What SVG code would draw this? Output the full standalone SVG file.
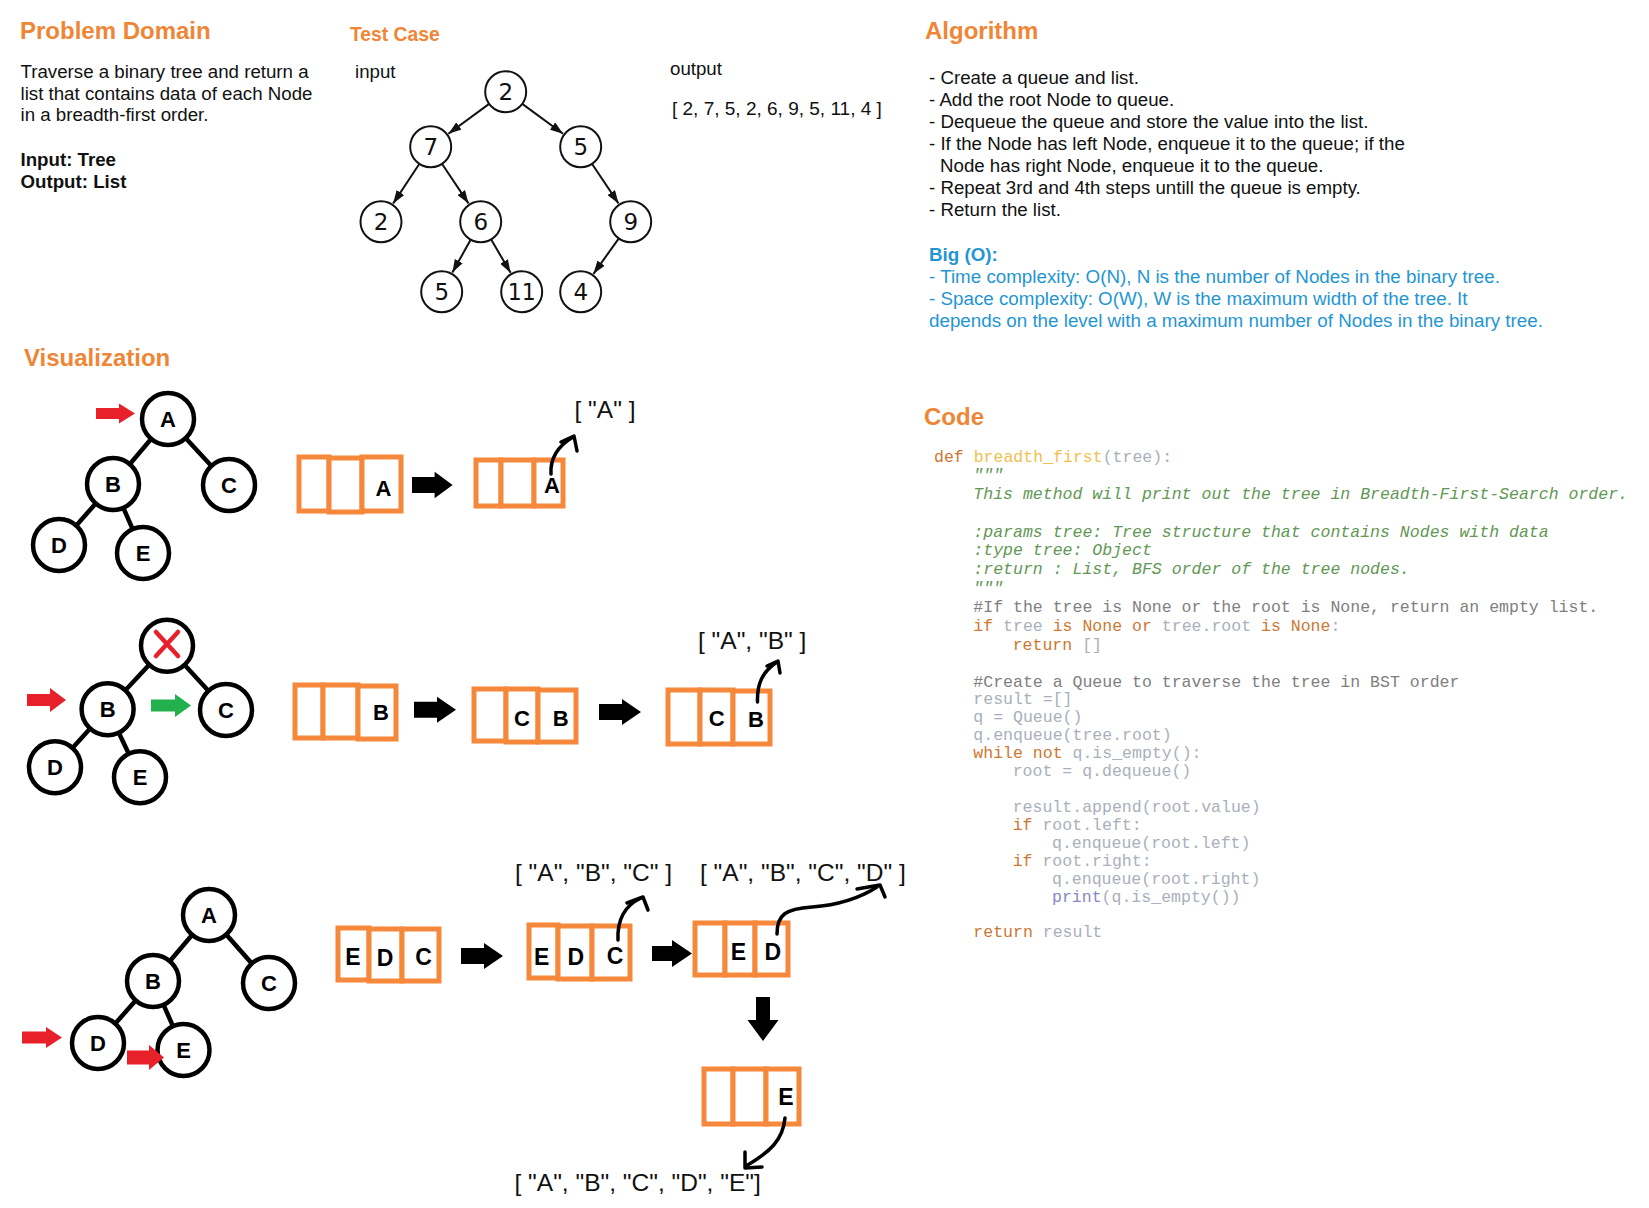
<svg xmlns="http://www.w3.org/2000/svg" width="1649" height="1208" viewBox="0 0 1649 1208">
<style>
  .h { font-family: "Liberation Sans", Arial, sans-serif; font-weight: bold; font-size: 24px; fill: #ef8636; }
  .t { font-family: "Liberation Sans", Arial, sans-serif; font-size: 18.7px; fill: #111; }
  .tb { font-family: "Liberation Sans", Arial, sans-serif; font-size: 18.7px; font-weight: bold; fill: #111; }
  .blue { font-family: "Liberation Sans", Arial, sans-serif; font-size: 18.8px; fill: #1f96d3; }
  .num { font-family: "DejaVu Sans", sans-serif; font-size: 23px; fill: #111; text-anchor: middle; }
  .tc { fill: #fff; stroke: #111; stroke-width: 2; }
  .te { stroke: #111; stroke-width: 2; fill: none; marker-end: url(#ah); }
  .vc { fill: #fff; stroke: #000; stroke-width: 4.5; }
  .vl { stroke: #000; stroke-width: 4.5; fill: none; }
  .vt { font-family: "Liberation Sans", Arial, sans-serif; font-weight: bold; font-size: 22px; fill: #000; text-anchor: middle; }
  .vt3 { font-size: 23px; }
  .cell { fill: #fff; stroke: #f5883a; stroke-width: 5; }
  .q { font-family: "Liberation Sans", Arial, sans-serif; font-size: 24.5px; fill: #111; }
  .curve { stroke: #000; stroke-width: 3.5; fill: none; stroke-linecap: round; stroke-linejoin: round; }
  .red { fill: #e8202a; }
  .green { fill: #22b14c; }
  .blk { fill: #000; }
  .code { font-family: "Liberation Mono", "Courier New", monospace; font-size: 16.55px; fill: #a9b0bb; }
  .kw { fill: #cc7832; }
  .fn { fill: #f0c050; }
  .cm { fill: #808080; }
  .doc { fill: #629755; font-style: italic; }
  .bi { fill: #8888c6; }
</style>
<defs>
  <marker id="ah" viewBox="0 0 13 9" markerWidth="13" markerHeight="9" refX="13" refY="4.5" orient="auto" markerUnits="userSpaceOnUse">
    <path d="M0,0 L13,4.5 L0,9 Z" fill="#111"/>
  </marker>
</defs>
<rect width="1649" height="1208" fill="#fff"/>

<!-- Problem Domain -->
<g id="problem-domain">
  <text class="h" x="20" y="39">Problem Domain</text>
  <text class="t" x="20.5" y="78.3">Traverse a binary tree and return a</text>
  <text class="t" x="20.5" y="99.5">list that contains data of each Node</text>
  <text class="t" x="20.5" y="120.7">in a breadth-first order.</text>
  <text class="tb" x="20.5" y="166">Input: Tree</text>
  <text class="tb" x="20.5" y="187.7">Output: List</text>
</g>

<!-- Test case -->
<g id="test-case">
  <text class="h" x="350" y="40.7" style="font-size:19.3px">Test Case</text>
  <text class="t" x="355" y="78">input</text>
  <text class="t" x="670" y="75">output</text>
  <text class="t" x="672" y="115" style="font-size:19px">[ 2, 7, 5, 2, 6, 9, 5, 11, 4 ]</text>
</g>

<g id="test-tree-edges">
  <line class="te" x1="488.8" y1="104.1" x2="448.4" y2="133.7"/>
  <line class="te" x1="522.6" y1="104.1" x2="563.0" y2="133.7"/>
  <line class="te" x1="419.1" y1="164.2" x2="393.2" y2="203.4"/>
  <line class="te" x1="442.3" y1="164.2" x2="468.5" y2="203.4"/>
  <line class="te" x1="592.3" y1="164.2" x2="618.5" y2="203.4"/>
  <line class="te" x1="470.5" y1="240.0" x2="452.4" y2="272.5"/>
  <line class="te" x1="491.3" y1="239.8" x2="510.6" y2="272.7"/>
  <line class="te" x1="618.5" y1="238.8" x2="593.5" y2="273.8"/>
</g>
<g id="tn-root"><circle class="tc" cx="505.7" cy="91.7" r="20.5"/><text class="num" x="505.7" y="100">2</text></g>
<g id="tn-7"><circle class="tc" cx="430.7" cy="146.7" r="20.5"/><text class="num" x="430.7" y="155">7</text></g>
<g id="tn-5"><circle class="tc" cx="580.7" cy="146.7" r="20.5"/><text class="num" x="580.7" y="155">5</text></g>
<g id="tn-2b"><circle class="tc" cx="381" cy="221.7" r="20.5"/><text class="num" x="381" y="230">2</text></g>
<g id="tn-6"><circle class="tc" cx="480.7" cy="221.7" r="20.5"/><text class="num" x="480.7" y="230">6</text></g>
<g id="tn-9"><circle class="tc" cx="630.7" cy="221.7" r="20.5"/><text class="num" x="630.7" y="230">9</text></g>
<g id="tn-5b"><circle class="tc" cx="441.7" cy="291.7" r="20.5"/><text class="num" x="441.7" y="300">5</text></g>
<g id="tn-11"><circle class="tc" cx="521.7" cy="291.7" r="20.5"/><text class="num" x="521.7" y="300" textLength="28" lengthAdjust="spacingAndGlyphs">11</text></g>
<g id="tn-4"><circle class="tc" cx="580.7" cy="291.7" r="20.5"/><text class="num" x="580.7" y="300">4</text></g>

<!-- Algorithm -->
<g id="algorithm">
  <text class="h" x="925" y="39.3">Algorithm</text>
  <text class="t" x="929" y="83.5">- Create a queue and list.</text>
  <text class="t" x="929" y="105.5">- Add the root Node to queue.</text>
  <text class="t" x="929" y="127.7">- Dequeue the queue and store the value into the list.</text>
  <text class="t" x="929" y="150">- If the Node has left Node, enqueue it to the queue; if the</text>
  <text class="t" x="940" y="172">Node has right Node, enqueue it to the queue.</text>
  <text class="t" x="929" y="194">- Repeat 3rd and 4th steps untill the queue is empty.</text>
  <text class="t" x="929" y="216">- Return the list.</text>
  <text class="blue" x="929" y="260.5" style="font-weight:bold">Big (O):</text>
  <text class="blue" x="929" y="282.5">- Time complexity: O(N), N is the number of Nodes in the binary tree.</text>
  <text class="blue" x="929" y="304.5">- Space complexity: O(W), W is the maximum width of the tree. It</text>
  <text class="blue" x="929" y="326.5">depends on the level with a maximum number of Nodes in the binary tree.</text>
</g>

<!-- Code -->
<g id="code">
  <text class="h" x="924" y="425">Code</text>
  <g class="code" xml:space="preserve">
    <text x="934" y="462"><tspan class="kw">def</tspan> <tspan class="fn">breadth_first</tspan>(tree):</text>
    <text x="973.3" y="480" class="doc">"""</text>
    <text x="973.3" y="498.5" class="doc">This method will print out the tree in Breadth-First-Search order.</text>
    <text x="973.3" y="536.5" class="doc">:params tree: Tree structure that contains Nodes with data</text>
    <text x="973.3" y="555.3" class="doc">:type tree: Object</text>
    <text x="973.3" y="574" class="doc">:return : List, BFS order of the tree nodes.</text>
    <text x="973.3" y="592.5" class="doc">"""</text>
    <text x="973.3" y="612" class="cm">#If the tree is None or the root is None, return an empty list.</text>
    <text x="973.3" y="630.5"><tspan class="kw">if</tspan> tree <tspan class="kw">is None or</tspan> tree.root <tspan class="kw">is None</tspan>:</text>
    <text x="1012.7" y="649.5"><tspan class="kw">return</tspan> []</text>
    <text x="973.3" y="686.5" class="cm">#Create a Queue to traverse the tree in BST order</text>
    <text x="973.3" y="704">result =[]</text>
    <text x="973.3" y="722">q = Queue()</text>
    <text x="973.3" y="740">q.enqueue(tree.root)</text>
    <text x="973.3" y="758"><tspan class="kw">while not</tspan> q.is_empty():</text>
    <text x="1012.7" y="776">root = q.dequeue()</text>
    <text x="1012.7" y="812">result.append(root.value)</text>
    <text x="1012.7" y="830"><tspan class="kw">if</tspan> root.left:</text>
    <text x="1052" y="848">q.enqueue(root.left)</text>
    <text x="1012.7" y="866"><tspan class="kw">if</tspan> root.right:</text>
    <text x="1052" y="884">q.enqueue(root.right)</text>
    <text x="1052" y="902"><tspan class="bi">print</tspan>(q.is_empty())</text>
    <text x="973.3" y="937"><tspan class="kw">return</tspan> result</text>
  </g>
</g>

<!-- Visualization -->
<text class="h" x="24" y="366">Visualization</text>

<g id="connectors">
  <!-- row 1 tree -->
  <line class="vl" x1="168" y1="419" x2="113" y2="484"/>
  <line class="vl" x1="168" y1="419" x2="229" y2="485"/>
  <line class="vl" x1="113" y1="484" x2="59" y2="545"/>
  <line class="vl" x1="113" y1="484" x2="143" y2="553"/>
  <!-- row 2 tree -->
  <line class="vl" x1="167" y1="645.7" x2="107.6" y2="709.3"/>
  <line class="vl" x1="167" y1="645.7" x2="226" y2="710"/>
  <line class="vl" x1="107.6" y1="709.3" x2="55" y2="767.3"/>
  <line class="vl" x1="107.6" y1="709.3" x2="140" y2="777.3"/>
  <!-- row 3 tree -->
  <line class="vl" x1="209" y1="915" x2="153" y2="981"/>
  <line class="vl" x1="209" y1="915" x2="269" y2="983"/>
  <line class="vl" x1="153" y1="981" x2="98" y2="1043"/>
  <line class="vl" x1="153" y1="981" x2="183.5" y2="1050"/>
  <!-- block arrows -->
  <path class="red" d="M96,408 H119 V403.5 L135,413.5 L119,423.5 V419 H96 Z"/>
  <path class="blk" d="M412,477 H434.6 V471.7 L452.6,485 L434.6,498.3 V493 H412 Z"/>
  <path class="red" d="M27,694 H50 V688 L66,700 L50,712 V706 H27 Z"/>
  <path class="green" d="M151,699.5 H175 V694 L191,705.5 L175,717 V711.5 H151 Z"/>
  <path class="blk" d="M414,701.7 H437 V696.7 L456,709.7 L437,722.7 V717.7 H414 Z"/>
  <path class="blk" d="M599,704 H622 V699 L641,712 L622,725 V720 H599 Z"/>
  <path class="red" d="M22,1031.5 H46 V1027 L62,1037.5 L46,1048 V1043.5 H22 Z"/>
  <path class="blk" d="M461,948 H484 V943 L503,956 L484,969 V964 H461 Z"/>
  <path class="blk" d="M652,946 H672 V940 L692,953.5 L672,967 V961 H652 Z"/>
  <path class="blk" d="M756,997 V1020 H747.5 L763,1041 L778.5,1020 H770 V997 Z"/>
</g>

<!-- row 1 tree nodes -->
<g id="r1-A"><circle class="vc" cx="168" cy="419" r="26"/><text class="vt" x="168" y="427">A</text></g>
<g id="r1-B"><circle class="vc" cx="113" cy="484" r="26"/><text class="vt" x="113" y="492">B</text></g>
<g id="r1-C"><circle class="vc" cx="229" cy="485" r="26"/><text class="vt" x="229" y="493">C</text></g>
<g id="r1-D"><circle class="vc" cx="59" cy="545" r="26"/><text class="vt" x="59" y="553">D</text></g>
<g id="r1-E"><circle class="vc" cx="143" cy="553" r="26"/><text class="vt" x="143" y="561">E</text></g>

<!-- row 2 tree nodes -->
<g id="r2-A"><circle class="vc" cx="167" cy="645.7" r="26"/>
  <path d="M156,632 L178,656 M178,632 L156,656" stroke="#e8202a" stroke-width="4.5" stroke-linecap="round"/></g>
<g id="r2-B"><circle class="vc" cx="107.6" cy="709.3" r="26"/><text class="vt" x="107.6" y="717.3">B</text></g>
<g id="r2-C"><circle class="vc" cx="226" cy="710" r="26"/><text class="vt" x="226" y="718">C</text></g>
<g id="r2-D"><circle class="vc" cx="55" cy="767.3" r="26"/><text class="vt" x="55" y="775.3">D</text></g>
<g id="r2-E"><circle class="vc" cx="140" cy="777.3" r="26"/><text class="vt" x="140" y="785.3">E</text></g>

<!-- row 3 tree nodes -->
<g id="r3-A"><circle class="vc" cx="209" cy="915" r="26"/><text class="vt" x="209" y="923">A</text></g>
<g id="r3-B"><circle class="vc" cx="153" cy="981" r="26"/><text class="vt" x="153" y="989">B</text></g>
<g id="r3-C"><circle class="vc" cx="269" cy="983" r="26"/><text class="vt" x="269" y="991">C</text></g>
<g id="r3-D"><circle class="vc" cx="98" cy="1043" r="26"/><text class="vt" x="98" y="1051">D</text></g>
<g id="r3-E"><circle class="vc" cx="183.5" cy="1050" r="26"/><text class="vt" x="183.5" y="1058">E</text></g>
<path class="red" d="M127,1050.5 H149 V1045 L164,1057.5 L149,1070 V1064.5 H127 Z"/>

<!-- queues row 1 -->
<g id="q1a">
  <rect class="cell" x="299" y="457" width="30" height="54"/>
  <rect class="cell" x="329" y="458" width="33" height="54"/>
  <rect class="cell" x="362" y="457" width="39" height="54"/>
  <text class="vt" x="383.5" y="496">A</text>
</g>
<g id="q1b">
  <rect class="cell" x="476" y="460" width="25" height="46"/>
  <rect class="cell" x="501" y="460" width="33" height="46"/>
  <rect class="cell" x="534" y="460" width="29" height="46"/>
  <text class="vt" x="552" y="493">A</text>
</g>
<g id="l1"><text class="q" x="574.5" y="417.5">[ "A" ]</text></g>

<!-- queues row 2 -->
<g id="q2a">
  <rect class="cell" x="295" y="685" width="28" height="53"/>
  <rect class="cell" x="323" y="685" width="35" height="53"/>
  <rect class="cell" x="358" y="686" width="38" height="53"/>
  <text class="vt" x="381" y="720">B</text>
</g>
<g id="q2b">
  <rect class="cell" x="474" y="689" width="32" height="52"/>
  <rect class="cell" x="506" y="689" width="32" height="53"/>
  <rect class="cell" x="538" y="690" width="38" height="52"/>
  <text class="vt" x="522" y="726">C</text>
  <text class="vt" x="560.6" y="726">B</text>
</g>
<g id="q2c">
  <rect class="cell" x="668" y="690" width="32" height="54"/>
  <rect class="cell" x="700" y="690" width="33" height="54"/>
  <rect class="cell" x="733" y="691" width="37" height="53"/>
  <text class="vt" x="716.6" y="726">C</text>
  <text class="vt" x="756" y="727">B</text>
</g>
<g id="l2"><text class="q" x="698" y="649">[ "A", "B" ]</text></g>

<!-- queues row 3 -->
<g id="q3a">
  <rect class="cell" x="338" y="928" width="31" height="52"/>
  <rect class="cell" x="369" y="929" width="33" height="52"/>
  <rect class="cell" x="402" y="929" width="37" height="52"/>
  <text class="vt vt3" x="353" y="965">E</text>
  <text class="vt vt3" x="385" y="966">D</text>
  <text class="vt vt3" x="423.6" y="965">C</text>
</g>
<g id="q3b">
  <rect class="cell" x="529" y="925" width="29" height="53"/>
  <rect class="cell" x="558" y="926" width="34" height="53"/>
  <rect class="cell" x="592" y="926" width="38" height="53"/>
  <text class="vt vt3" x="541.7" y="965">E</text>
  <text class="vt vt3" x="575.7" y="965">D</text>
  <text class="vt vt3" x="615" y="964">C</text>
</g>
<g id="q3c">
  <rect class="cell" x="695" y="923" width="30" height="52"/>
  <rect class="cell" x="725" y="923" width="30" height="52"/>
  <rect class="cell" x="755" y="923" width="33" height="52"/>
  <text class="vt vt3" x="738.3" y="960">E</text>
  <text class="vt vt3" x="772.7" y="960">D</text>
</g>
<g id="q3d">
  <rect class="cell" x="704" y="1069" width="29" height="55"/>
  <rect class="cell" x="733" y="1069" width="33" height="55"/>
  <rect class="cell" x="766" y="1069" width="33" height="55"/>
  <text class="vt vt3" x="786" y="1105">E</text>
</g>
<g id="l3"><text class="q" x="515" y="881">[ "A", "B", "C" ]</text></g>
<g id="l4"><text class="q" x="700" y="881">[ "A", "B", "C", "D" ]</text></g>
<g id="l5"><text class="q" x="514.5" y="1191">[ "A", "B", "C", "D", "E"]</text></g>

<!-- curved pointer arrows -->
<g id="pointer-arrows">
  <path class="curve" d="M551,474 C550,458 558,446 573,437"/>
  <path class="curve" d="M561,442 L574,436 L577,451"/>
  <path class="curve" d="M757.5,702 C757,684 762,672 777,662"/>
  <path class="curve" d="M767,666 L778,661 L780,673"/>
  <path class="curve" d="M618,940 C617,918 626,905 641,898"/>
  <path class="curve" d="M627,903 L643,897 L648,910"/>
  <path class="curve" d="M777,934 C777,914 786,909 812,907 C838,905 860,898 877,887"/>
  <path class="curve" d="M857,889 L880,885 L885,897"/>
  <path class="curve" d="M785,1118 C783,1140 770,1152 746,1166"/>
  <path class="curve" d="M745,1152 L745,1168 L762,1167"/>
</g>
</svg>
